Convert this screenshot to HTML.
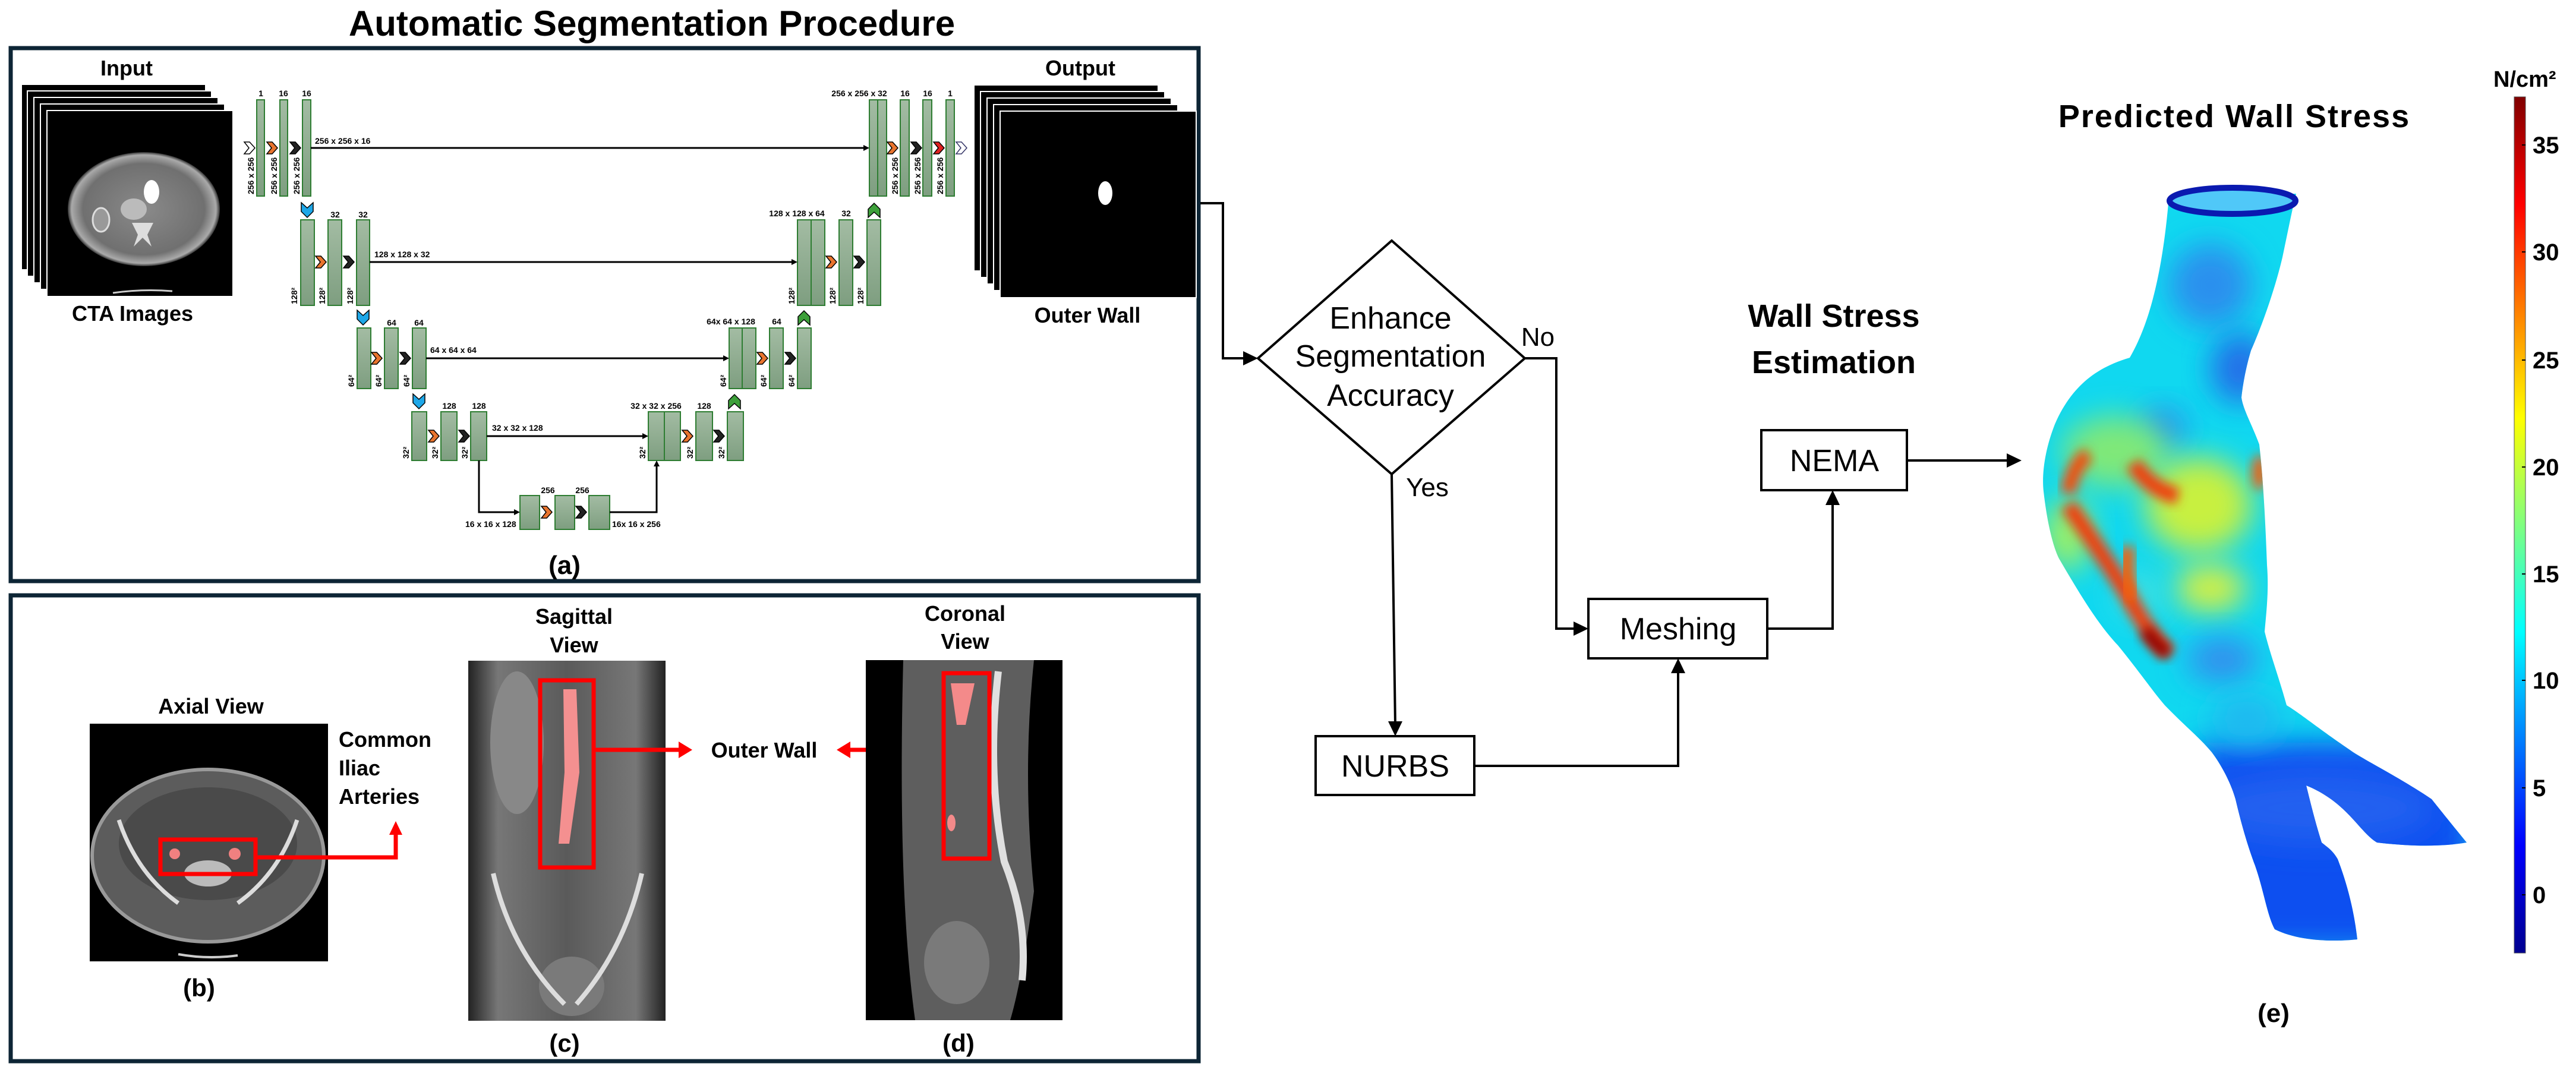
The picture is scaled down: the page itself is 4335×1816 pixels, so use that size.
<!DOCTYPE html>
<html><head><meta charset="utf-8"><style>
html,body{margin:0;padding:0;background:#fff;}
svg{display:block;}
text{font-family:"Liberation Sans",Arial,sans-serif;}
</style></head><body>
<svg width="4335" height="1816" viewBox="0 0 4335 1816" xmlns="http://www.w3.org/2000/svg">
<defs>
<linearGradient id="bar" x1="0" y1="0" x2="0" y2="1"><stop offset="0" stop-color="#a3bca3"/><stop offset="1" stop-color="#7e9e80"/></linearGradient>
<linearGradient id="jet" x1="0" y1="1" x2="0" y2="0">
<stop offset="0" stop-color="#00008f"/><stop offset="0.125" stop-color="#0000ff"/><stop offset="0.375" stop-color="#00ffff"/><stop offset="0.625" stop-color="#ffff00"/><stop offset="0.875" stop-color="#ff0000"/><stop offset="1" stop-color="#800000"/></linearGradient>
<radialGradient id="ct" cx="0.5" cy="0.5" r="0.5"><stop offset="0" stop-color="#8a8a8a"/><stop offset="0.8" stop-color="#707070"/><stop offset="0.95" stop-color="#aaa"/><stop offset="1" stop-color="#333"/></radialGradient>
<linearGradient id="sag" x1="0" y1="0" x2="1" y2="0"><stop offset="0" stop-color="#222"/><stop offset="0.15" stop-color="#777"/><stop offset="0.5" stop-color="#5a5a5a"/><stop offset="0.85" stop-color="#777"/><stop offset="1" stop-color="#222"/></linearGradient>
<filter id="blur" x="-50%" y="-50%" width="200%" height="200%"><feGaussianBlur stdDeviation="9"/></filter>
<filter id="blur2" x="-50%" y="-50%" width="200%" height="200%"><feGaussianBlur stdDeviation="25"/></filter>
<clipPath id="body"><path d="M3650,331 C3640,450 3620,540 3584,602 C3540,615 3490,640 3458,714 C3440,760 3436,800 3439,827 C3445,880 3455,920 3465,940 C3500,1000 3530,1050 3564,1086 C3600,1130 3620,1160 3643,1187 C3680,1225 3700,1240 3722,1266 C3740,1290 3755,1320 3762,1345 C3775,1400 3785,1430 3795,1457 C3810,1500 3815,1540 3828,1564 C3870,1585 3930,1585 3967,1581 C3960,1520 3945,1475 3934,1446 C3925,1430 3915,1425 3907,1418 C3895,1380 3888,1350 3881,1322 C3950,1350 3970,1400 4000,1418 C4060,1425 4110,1425 4151,1418 C4120,1380 4100,1355 4092,1345 C4040,1310 3990,1285 3960,1266 C3900,1225 3870,1200 3848,1187 C3835,1140 3820,1100 3811,1063 C3815,1020 3818,990 3815,951 C3812,870 3808,800 3802,748 C3790,715 3775,690 3772,669 C3775,640 3782,610 3788,590 C3810,540 3830,480 3841,433 C3850,390 3858,350 3864,326 Z"/></clipPath>
</defs>

<!-- ===== Panel (a) ===== -->
<text x="1097" y="60" font-size="60" font-weight="bold" text-anchor="middle">Automatic Segmentation Procedure</text>
<rect x="18" y="81" width="1999" height="897" fill="none" stroke="#0d2535" stroke-width="7"/>

<text x="213" y="127" font-size="36" font-weight="bold" text-anchor="middle">Input</text>
<g>
<rect x="36" y="142" width="310" height="312" fill="#000" stroke="#fff" stroke-width="2"/>
<rect x="46" y="153" width="310" height="312" fill="#000" stroke="#fff" stroke-width="2"/>
<rect x="57" y="164" width="310" height="312" fill="#000" stroke="#fff" stroke-width="2"/>
<rect x="68" y="175" width="310" height="312" fill="#000" stroke="#fff" stroke-width="2"/>
<rect x="79" y="186" width="313" height="313" fill="#000" stroke="#fff" stroke-width="2"/>
<ellipse cx="242" cy="352" rx="128" ry="96" fill="url(#ct)"/>
<ellipse cx="255" cy="323" rx="13" ry="20" fill="#fff"/>
<ellipse cx="225" cy="352" rx="22" ry="18" fill="#bbb"/>
<path d="M222,375 L232,395 L225,415 L240,400 L255,415 L248,395 L258,375 Z" fill="#ddd"/>
<ellipse cx="170" cy="370" rx="14" ry="20" fill="#999" stroke="#ddd" stroke-width="3"/>
<path d="M190,493 Q240,486 290,490" stroke="#ccc" stroke-width="3" fill="none"/>
</g>
<text x="223" y="540" font-size="36" font-weight="bold" text-anchor="middle">CTA Images</text>

<text x="1818" y="127" font-size="36" font-weight="bold" text-anchor="middle">Output</text>
<g>
<rect x="1639" y="143" width="310" height="313" fill="#000" stroke="#fff" stroke-width="2"/>
<rect x="1650" y="154" width="310" height="313" fill="#000" stroke="#fff" stroke-width="2"/>
<rect x="1661" y="165" width="310" height="313" fill="#000" stroke="#fff" stroke-width="2"/>
<rect x="1672" y="176" width="310" height="313" fill="#000" stroke="#fff" stroke-width="2"/>
<rect x="1683" y="187" width="330" height="314" fill="#000" stroke="#fff" stroke-width="2"/>
<ellipse cx="1860" cy="325" rx="12" ry="20" fill="#fff"/>
</g>
<text x="1830" y="543" font-size="36" font-weight="bold" text-anchor="middle">Outer Wall</text>

<!-- U-Net bars -->
<g fill="url(#bar)" stroke="#2e7d32" stroke-width="2">
<rect x="432" y="168" width="13" height="162"/><rect x="471" y="168" width="13" height="162"/><rect x="509" y="168" width="14" height="162"/>
<rect x="1463" y="168" width="14" height="162"/><rect x="1477" y="168" width="15" height="162"/><rect x="1515" y="168" width="15" height="162"/><rect x="1553" y="168" width="15" height="162"/><rect x="1592" y="168" width="14" height="162"/>
<rect x="506" y="370" width="23" height="144"/><rect x="552" y="370" width="23" height="144"/><rect x="600" y="370" width="22" height="144"/>
<rect x="1342" y="370" width="23" height="144"/><rect x="1365" y="370" width="23" height="144"/><rect x="1412" y="370" width="23" height="144"/><rect x="1459" y="370" width="23" height="144"/>
<rect x="601" y="552" width="23" height="102"/><rect x="647" y="552" width="23" height="102"/><rect x="694" y="552" width="23" height="102"/>
<rect x="1227" y="552" width="22" height="102"/><rect x="1249" y="552" width="23" height="102"/><rect x="1295" y="552" width="23" height="102"/><rect x="1342" y="552" width="23" height="102"/>
<rect x="693" y="693" width="25" height="82"/><rect x="742" y="693" width="27" height="82"/><rect x="792" y="693" width="27" height="82"/>
<rect x="1091" y="693" width="27" height="82"/><rect x="1118" y="693" width="27" height="82"/><rect x="1171" y="693" width="28" height="82"/><rect x="1224" y="693" width="27" height="82"/>
<rect x="875" y="834" width="33" height="57"/><rect x="934" y="834" width="33" height="57"/><rect x="991" y="834" width="35" height="57"/>
</g>

<!-- skip connections -->
<g stroke="#000" stroke-width="3" fill="none">
<line x1="523" y1="249" x2="1455" y2="249"/><line x1="622" y1="441" x2="1334" y2="441"/><line x1="717" y1="603" x2="1219" y2="603"/><line x1="819" y1="734" x2="1083" y2="734"/>
<polyline points="806,775 806,862 867,862"/><polyline points="1026,862 1105,862 1105,783"/>
</g>
<g fill="#000">
<polygon points="1463,249 1453,244 1453,254"/><polygon points="1342,441 1332,436 1332,446"/><polygon points="1227,603 1217,598 1217,608"/><polygon points="1091,734 1081,729 1081,739"/>
<polygon points="875,862 865,857 865,867"/><polygon points="1105,775 1100,785 1110,785"/>
</g>

<!-- chevrons -->
<g stroke="#000" stroke-width="1.5">
<polygon points="411,239 420,239 429,249 420,259 411,259 419,249" fill="#fff"/>
<polygon points="449,239 458,239 467,249 458,259 449,259 457,249" fill="#e8742e"/>
<polygon points="488,239 497,239 506,249 497,259 488,259 496,249" fill="#222"/>
<polygon points="1493,239 1502,239 1511,249 1502,259 1493,259 1501,249" fill="#e8742e"/>
<polygon points="1533,239 1542,239 1551,249 1542,259 1533,259 1541,249" fill="#222"/>
<polygon points="1571,239 1580,239 1589,249 1580,259 1571,259 1579,249" fill="#e02020"/>
<polygon points="1609,239 1618,239 1627,249 1618,259 1609,259 1617,249" fill="#fff" stroke="#336"/>
<polygon points="531,431 540,431 549,441 540,451 531,451 539,441" fill="#e8742e"/>
<polygon points="578,431 587,431 596,441 587,451 578,451 586,441" fill="#222"/>
<polygon points="1390,431 1399,431 1408,441 1399,451 1390,451 1398,441" fill="#e8742e"/>
<polygon points="1437,431 1446,431 1455,441 1446,451 1437,451 1445,441" fill="#222"/>
<polygon points="625,593 634,593 643,603 634,613 625,613 633,603" fill="#e8742e"/>
<polygon points="673,593 682,593 691,603 682,613 673,613 681,603" fill="#222"/>
<polygon points="1274,593 1283,593 1292,603 1283,613 1274,613 1282,603" fill="#e8742e"/>
<polygon points="1321,593 1330,593 1339,603 1330,613 1321,613 1329,603" fill="#222"/>
<polygon points="721,724 730,724 739,734 730,744 721,744 729,734" fill="#e8742e"/>
<polygon points="772,724 781,724 790,734 781,744 772,744 780,734" fill="#222"/>
<polygon points="1148,724 1157,724 1166,734 1157,744 1148,744 1156,734" fill="#e8742e"/>
<polygon points="1201,724 1210,724 1219,734 1210,744 1201,744 1209,734" fill="#222"/>
<polygon points="911,852 920,852 929,862 920,872 911,872 919,862" fill="#e8742e"/>
<polygon points="969,852 978,852 987,862 978,872 969,872 977,862" fill="#222"/>
<polygon points="507,341 517,350 527,341 527,356 517,366 507,356" fill="#1ea7e8"/>
<polygon points="601,522 611,531 621,522 621,537 611,547 601,537" fill="#1ea7e8"/>
<polygon points="695,663 705,672 715,663 715,678 705,688 695,678" fill="#1ea7e8"/>
<polygon points="1461,366 1471,357 1481,366 1481,352 1471,342 1461,352" fill="#3da03a"/>
<polygon points="1343,547 1353,538 1363,547 1363,533 1353,523 1343,533" fill="#3da03a"/>
<polygon points="1226,688 1236,679 1246,688 1246,674 1236,664 1226,674" fill="#3da03a"/>
</g>

<!-- U-Net labels -->
<g font-size="14" font-weight="bold" text-anchor="middle">
<text x="439" y="162">1</text><text x="477" y="162">16</text><text x="516" y="162">16</text>
<text x="1446" y="162">256 x 256 x 32</text><text x="1523" y="162">16</text><text x="1561" y="162">16</text><text x="1599" y="162">1</text>
<text x="564" y="366">32</text><text x="611" y="366">32</text>
<text x="1341" y="364">128 x 128 x 64</text><text x="1424" y="364">32</text>
<text x="659" y="548">64</text><text x="705" y="548">64</text>
<text x="1230" y="546">64x 64 x 128</text><text x="1307" y="546">64</text>
<text x="756" y="688">128</text><text x="806" y="688">128</text>
<text x="1104" y="688">32 x 32 x 256</text><text x="1185" y="688">128</text>
<text x="922" y="830">256</text><text x="980" y="830">256</text>
</g>
<g font-size="14" font-weight="bold">
<text x="530" y="242">256 x 256 x 16</text>
<text x="630" y="433">128 x 128 x 32</text>
<text x="724" y="594">64 x 64 x 64</text>
<text x="828" y="725">32 x 32 x 128</text>
<text x="783" y="887">16 x 16 x 128</text>
<text x="1030" y="887">16x 16 x 256</text>
</g>
<g font-size="14" font-weight="bold" text-anchor="start">
<text transform="translate(427,327) rotate(-90)">256 x 256</text>
<text transform="translate(466,327) rotate(-90)">256 x 256</text>
<text transform="translate(504,327) rotate(-90)">256 x 256</text>
<text transform="translate(1511,327) rotate(-90)">256 x 256</text>
<text transform="translate(1549,327) rotate(-90)">256 x 256</text>
<text transform="translate(1587,327) rotate(-90)">256 x 256</text>
<text transform="translate(500,512) rotate(-90)">128²</text><text transform="translate(547,512) rotate(-90)">128²</text><text transform="translate(594,512) rotate(-90)">128²</text>
<text transform="translate(1337,512) rotate(-90)">128²</text><text transform="translate(1406,512) rotate(-90)">128²</text><text transform="translate(1453,512) rotate(-90)">128²</text>
<text transform="translate(596,651) rotate(-90)">64²</text><text transform="translate(642,651) rotate(-90)">64²</text><text transform="translate(689,651) rotate(-90)">64²</text>
<text transform="translate(1222,651) rotate(-90)">64²</text><text transform="translate(1290,651) rotate(-90)">64²</text><text transform="translate(1337,651) rotate(-90)">64²</text>
<text transform="translate(688,772) rotate(-90)">32²</text><text transform="translate(737,772) rotate(-90)">32²</text><text transform="translate(787,772) rotate(-90)">32²</text>
<text transform="translate(1086,772) rotate(-90)">32²</text><text transform="translate(1166,772) rotate(-90)">32²</text><text transform="translate(1219,772) rotate(-90)">32²</text>
</g>
<text x="950" y="966" font-size="44" font-weight="bold" text-anchor="middle">(a)</text>

<!-- ===== Panel (b-d) ===== -->
<rect x="18" y="1002" width="1999" height="784" fill="none" stroke="#0d2535" stroke-width="7"/>

<text x="355" y="1201" font-size="36" font-weight="bold" text-anchor="middle">Axial View</text>
<rect x="151" y="1218" width="401" height="400" fill="#000"/>
<ellipse cx="350" cy="1440" rx="195" ry="145" fill="#5c5c5c" stroke="#999" stroke-width="6"/>
<ellipse cx="350" cy="1420" rx="150" ry="95" fill="#4a4a4a"/>
<path d="M200,1380 Q230,1470 300,1520 M500,1380 Q470,1470 400,1520" stroke="#ddd" stroke-width="7" fill="none"/>
<ellipse cx="350" cy="1470" rx="40" ry="22" fill="#bbb"/>
<circle cx="294" cy="1437" r="9" fill="#f08080"/><circle cx="395" cy="1437" r="10" fill="#f08080"/>
<path d="M300,1606 Q350,1615 400,1608" stroke="#ccc" stroke-width="4" fill="none"/>
<rect x="270" y="1413" width="160" height="58" fill="none" stroke="#f00" stroke-width="7"/>
<polyline points="430,1443 666,1443 666,1398" fill="none" stroke="#f00" stroke-width="7"/>
<polygon points="666,1382 655,1405 677,1405" fill="#f00"/>
<g font-size="36" font-weight="bold"><text x="570" y="1257">Common</text><text x="570" y="1305">Iliac</text><text x="570" y="1353">Arteries</text></g>
<text x="335" y="1677" font-size="42" font-weight="bold" text-anchor="middle">(b)</text>

<text x="966" y="1050" font-size="36" font-weight="bold" text-anchor="middle">Sagittal</text>
<text x="966" y="1098" font-size="36" font-weight="bold" text-anchor="middle">View</text>
<rect x="788" y="1112" width="332" height="606" fill="url(#sag)"/>
<ellipse cx="870" cy="1250" rx="45" ry="120" fill="#888"/>
<ellipse cx="962" cy="1660" rx="55" ry="50" fill="#7a7a7a"/>
<path d="M830,1470 Q860,1600 950,1690 M1080,1470 Q1050,1600 970,1690" stroke="#ddd" stroke-width="8" fill="none"/>
<path d="M948,1160 L970,1160 L975,1300 L958,1420 L940,1420 L950,1300 Z" fill="#f49090"/>
<rect x="909" y="1145" width="90" height="315" fill="none" stroke="#f00" stroke-width="7"/>
<line x1="999" y1="1262" x2="1145" y2="1262" stroke="#f00" stroke-width="7"/>
<polygon points="1165,1262 1142,1248 1142,1276" fill="#f00"/>
<text x="1286" y="1275" font-size="36" font-weight="bold" text-anchor="middle">Outer Wall</text>
<line x1="1588" y1="1262" x2="1428" y2="1262" stroke="#f00" stroke-width="7"/>
<polygon points="1408,1262 1431,1248 1431,1276" fill="#f00"/>
<text x="950" y="1770" font-size="42" font-weight="bold" text-anchor="middle">(c)</text>

<text x="1624" y="1045" font-size="36" font-weight="bold" text-anchor="middle">Coronal</text>
<text x="1624" y="1092" font-size="36" font-weight="bold" text-anchor="middle">View</text>
<rect x="1457" y="1111" width="331" height="606" fill="#000"/>
<path d="M1520,1111 L1740,1111 Q1720,1300 1740,1500 Q1720,1650 1700,1717 L1540,1717 Q1510,1500 1520,1111 Z" fill="#5e5e5e"/>
<path d="M1680,1130 Q1660,1300 1690,1450 Q1730,1550 1720,1650" stroke="#e0e0e0" stroke-width="12" fill="none"/>
<ellipse cx="1610" cy="1620" rx="55" ry="70" fill="#7a7a7a"/>
<path d="M1600,1150 L1640,1150 L1625,1220 L1610,1220 Z" fill="#f48a8a"/>
<ellipse cx="1601" cy="1385" rx="7" ry="14" fill="#f48a8a"/>
<rect x="1588" y="1133" width="77" height="312" fill="none" stroke="#f00" stroke-width="7"/>
<text x="1613" y="1770" font-size="42" font-weight="bold" text-anchor="middle">(d)</text>

<!-- ===== Flowchart ===== -->
<g stroke="#000" stroke-width="4" fill="none">
<polyline points="2020,342 2058,342 2058,603 2100,603"/>
<polygon points="2342,405 2566,603 2342,798 2117,603" fill="#fff"/>
<polyline points="2566,603 2619,603 2619,1058 2655,1058"/>
<line x1="2342" y1="798" x2="2348" y2="1221"/>
<rect x="2214" y="1239" width="267" height="99" fill="#fff"/>
<rect x="2673" y="1008" width="301" height="100" fill="#fff"/>
<rect x="2964" y="724" width="245" height="101" fill="#fff"/>
<polyline points="2481,1289 2824,1289 2824,1126"/>
<polyline points="2974,1058 3084,1058 3084,843"/>
<line x1="3209" y1="775" x2="3384" y2="775"/>
</g>
<g fill="#000">
<polygon points="2117,603 2092,591 2092,615"/>
<polygon points="2673,1058 2648,1046 2648,1070"/>
<polygon points="2348,1239 2336,1214 2360,1214"/>
<polygon points="2824,1108 2812,1133 2836,1133"/>
<polygon points="3084,825 3072,850 3096,850"/>
<polygon points="3402,775 3377,763 3377,787"/>
</g>
<g font-size="52" text-anchor="middle">
<text x="2340" y="553">Enhance</text>
<text x="2340" y="617">Segmentation</text>
<text x="2340" y="683">Accuracy</text>
<text x="2588" y="582" font-size="44">No</text>
<text x="2402" y="835" font-size="44">Yes</text>
<text x="2348" y="1307">NURBS</text>
<text x="2824" y="1076">Meshing</text>
<text x="3087" y="793">NEMA</text>
</g>
<text x="3086" y="550" font-size="54" font-weight="bold" text-anchor="middle">Wall Stress</text>
<text x="3086" y="628" font-size="54" font-weight="bold" text-anchor="middle">Estimation</text>

<!-- ===== Panel (e) ===== -->
<text x="3760" y="214" font-size="54" font-weight="bold" text-anchor="middle" letter-spacing="2">Predicted Wall Stress</text>
<g clip-path="url(#body)">
<rect x="3400" y="300" width="800" height="1300" fill="#10d8f0"/>
<ellipse cx="3720" cy="480" rx="70" ry="70" fill="#2a90ee" filter="url(#blur2)"/>
<ellipse cx="3770" cy="620" rx="50" ry="60" fill="#2070e8" filter="url(#blur2)"/>
<ellipse cx="3640" cy="720" rx="40" ry="35" fill="#2a90ee" filter="url(#blur2)"/>
<ellipse cx="3560" cy="760" rx="90" ry="60" fill="#80e878" filter="url(#blur2)"/>
<ellipse cx="3700" cy="850" rx="90" ry="80" fill="#c8f040" filter="url(#blur2)"/>
<ellipse cx="3480" cy="900" rx="40" ry="60" fill="#a0f060" filter="url(#blur2)"/>
<ellipse cx="3720" cy="990" rx="60" ry="40" fill="#d8f040" filter="url(#blur2)"/>
<ellipse cx="3740" cy="1110" rx="60" ry="40" fill="#3090ee" filter="url(#blur2)"/>
<ellipse cx="3600" cy="1000" rx="40" ry="40" fill="#40e0e0" filter="url(#blur2)"/>
<rect x="3700" y="1250" width="460" height="350" fill="#1050f0" filter="url(#blur2)"/>
<ellipse cx="3900" cy="1360" rx="200" ry="60" fill="#2060f0" filter="url(#blur2)"/>
<ellipse cx="3780" cy="1210" rx="60" ry="40" fill="#20b8f0" filter="url(#blur2)"/>
<path d="M3480,830 Q3490,780 3515,765" stroke="#f05010" stroke-width="26" fill="none" filter="url(#blur)"/>
<path d="M3590,780 Q3620,825 3665,835" stroke="#f04010" stroke-width="28" fill="none" filter="url(#blur)"/>
<path d="M3480,850 Q3530,920 3580,1000 Q3610,1060 3650,1100" stroke="#f04010" stroke-width="28" fill="none" filter="url(#blur)"/>
<path d="M3580,920 Q3575,980 3590,1010" stroke="#f06010" stroke-width="26" fill="none" filter="url(#blur)"/>
<path d="M3610,1060 Q3630,1090 3650,1100" stroke="#900000" stroke-width="22" fill="none" filter="url(#blur)"/>
<ellipse cx="3802" cy="795" rx="12" ry="30" fill="#f06010" filter="url(#blur)"/>
</g>
<ellipse cx="3757" cy="338" rx="106" ry="22" fill="#50c8f8" stroke="#0a1ab0" stroke-width="10"/>

<rect x="4231" y="163" width="19" height="1441" fill="url(#jet)" stroke="#555" stroke-width="1"/>
<g stroke="#000" stroke-width="2">
<line x1="4244" y1="244" x2="4250" y2="244"/><line x1="4244" y1="424" x2="4250" y2="424"/><line x1="4244" y1="606" x2="4250" y2="606"/><line x1="4244" y1="786" x2="4250" y2="786"/>
<line x1="4244" y1="966" x2="4250" y2="966"/><line x1="4244" y1="1145" x2="4250" y2="1145"/><line x1="4244" y1="1326" x2="4250" y2="1326"/><line x1="4244" y1="1506" x2="4250" y2="1506"/>
</g>
<g font-size="40" font-weight="bold">
<text x="4262" y="258">35</text><text x="4262" y="438">30</text><text x="4262" y="620">25</text><text x="4262" y="800">20</text>
<text x="4262" y="980">15</text><text x="4262" y="1159">10</text><text x="4262" y="1340">5</text><text x="4262" y="1520">0</text>
</g>
<text x="4196" y="146" font-size="38" font-weight="bold">N/cm²</text>
<text x="3826" y="1720" font-size="44" font-weight="bold" text-anchor="middle">(e)</text>
</svg>
</body></html>
